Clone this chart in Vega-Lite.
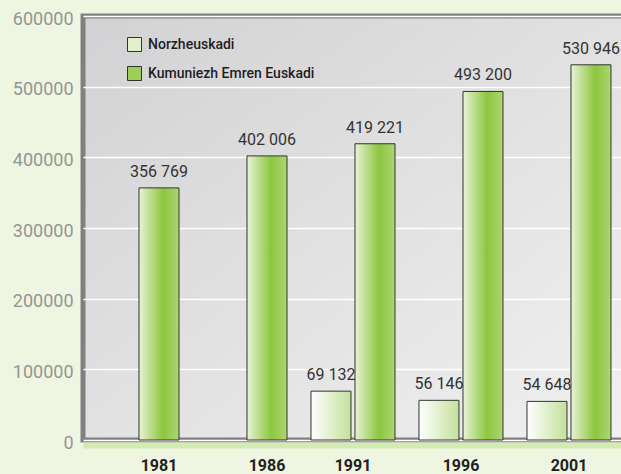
{
  "$schema": "https://vega.github.io/schema/vega-lite/v6.json",
  "autosize": "none",
  "width": 560,
  "height": 424,
  "padding": {"left": 83, "top": 16, "right": 0, "bottom": 34},
  "background": "#eef6e1",
  "data": {"values": [
    {"year": "1981", "series": "Kumuniezh Emren Euskadi", "value": 356769},
    {"year": "1986", "series": "Kumuniezh Emren Euskadi", "value": 402006},
    {"year": "1991", "series": "Norzheuskadi", "value": 69132},
    {"year": "1991", "series": "Kumuniezh Emren Euskadi", "value": 419221},
    {"year": "1996", "series": "Norzheuskadi", "value": 56146},
    {"year": "1996", "series": "Kumuniezh Emren Euskadi", "value": 493200},
    {"year": "2001", "series": "Norzheuskadi", "value": 54648},
    {"year": "2001", "series": "Kumuniezh Emren Euskadi", "value": 530946}
  ]},
  "encoding": {
    "x": {
      "field": "year", "type": "ordinal", "title": null,
      "scale": {"paddingInner": 0.2222, "paddingOuter": 0.2037, "align": 0.2727},
      "axis": {
        "offset": 5, "domainColor": "#d3eab3", "domainWidth": 6, "ticks": false,
        "labelAngle": 0, "labelFont": "Roboto", "labelFontSize": 16, "labelFontWeight": "bold",
        "labelColor": "#222222", "labelPadding": 12,
        "labelOffset": {"condition": {"test": "datum.value == '1981' || datum.value == '1986'", "value": 22}, "value": 0}
      }
    },
    "xOffset": {
      "field": "series", "type": "nominal",
      "scale": {"domain": ["Norzheuskadi", "Kumuniezh Emren Euskadi"], "paddingInner": 0.0909, "paddingOuter": 0}
    },
    "y": {
      "field": "value", "type": "quantitative", "title": null,
      "scale": {"domain": [0, 600000], "nice": false},
      "axis": {
        "values": [0, 100000, 200000, 300000, 400000, 500000, 600000],
        "format": "d", "domain": false, "ticks": false, "grid": true,
        "gridColor": "#ffffff", "gridWidth": 1.5,
        "labelFont": "Roboto", "labelFontSize": 18, "labelFontWeight": 400, "labelColor": "#959595",
        "labelPadding": 10, "labelOffset": 3
      }
    }
  },
  "layer": [
    {
      "mark": {"type": "bar", "opacity": 0},
      "encoding": {
        "color": {
          "field": "series", "type": "nominal",
          "scale": {"domain": ["Norzheuskadi", "Kumuniezh Emren Euskadi"], "range": ["#e2f0cc", "#9ccf58"]},
          "legend": {
            "title": null, "orient": "none", "legendX": 44, "legendY": 21,
            "symbolType": "square", "symbolSize": 196, "symbolOpacity": 1,
            "symbolStrokeColor": "#333333", "symbolStrokeWidth": 1,
            "labelFont": "Roboto", "labelFontSize": 14, "labelFontWeight": 500, "labelColor": "#1e1e1e",
            "labelLimit": 400, "rowPadding": 10, "labelOffset": 6,
            "encode": {"symbols": {"update": {
              "fill": {"signal": "datum.label == 'Norzheuskadi' ? {gradient: 'linear', x1: 0, y1: 0, x2: 1, y2: 0, stops: [{offset: 0, color: '#ffffff'}, {offset: 1, color: '#c3e09a'}]} : {gradient: 'linear', x1: 0, y1: 0, x2: 1, y2: 0, stops: [{offset: 0, color: '#e6f2d3'}, {offset: 0.6, color: '#8cc63f'}, {offset: 1, color: '#acd672'}]}"},
              "stroke": {"value": "#333333"},
              "strokeWidth": {"value": 1},
              "opacity": {"value": 1}
            }}}
          }
        }
      }
    },
    {
      "transform": [{"filter": "datum.series == 'Norzheuskadi'"}],
      "mark": {"type": "bar", "stroke": "#333333", "strokeWidth": 1,
        "fill": {"gradient": "linear", "x1": 0, "y1": 0, "x2": 1, "y2": 0, "stops": [{"offset": 0, "color": "#ffffff"}, {"offset": 1, "color": "#c3e09a"}]}}
    },
    {
      "transform": [{"filter": "datum.series == 'Kumuniezh Emren Euskadi'"}],
      "mark": {"type": "bar", "stroke": "#333333", "strokeWidth": 1,
        "fill": {"gradient": "linear", "x1": 0, "y1": 0, "x2": 1, "y2": 0, "stops": [{"offset": 0, "color": "#e8f3d6"}, {"offset": 0.6, "color": "#8cc63f"}, {"offset": 1, "color": "#acd672"}]}}
    },
    {
      "mark": {"type": "text", "baseline": "bottom", "dy": -8, "font": "Roboto", "fontSize": 16, "color": "#333333"},
      "encoding": {
        "text": {"field": "value", "type": "quantitative", "format": ",d"}
      }
    }
  ],
  "config": {
    "locale": {"number": {"decimal": ",", "thousands": " ", "grouping": [3], "currency": ["", ""]}},
    "view": {
      "stroke": "#808080", "strokeWidth": 5,
      "fill": {"gradient": "linear", "x1": 0, "y1": 0, "x2": 1, "y2": 1, "stops": [{"offset": 0, "color": "#d2d2d4"}, {"offset": 1, "color": "#f1f1f1"}]}
    }
  }
}
